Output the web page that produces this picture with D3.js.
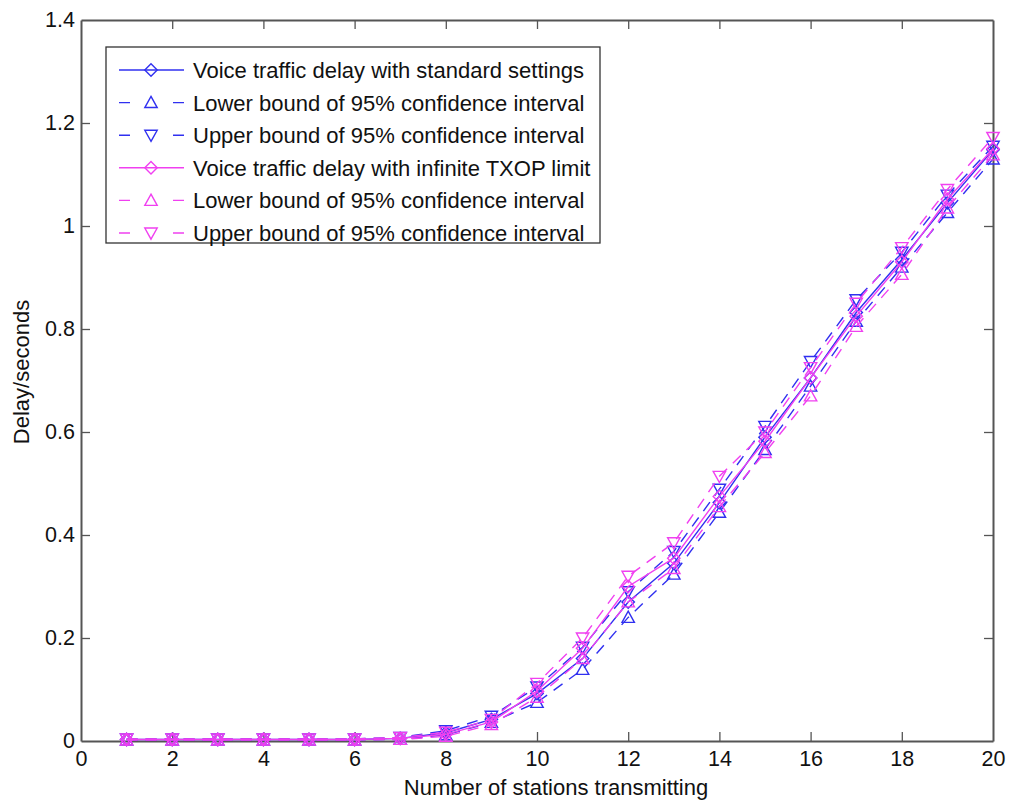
<!DOCTYPE html>
<html>
<head>
<meta charset="utf-8">
<script src="https://cdn.jsdelivr.net/npm/d3@7"></script>
<style>
	body{ margin:0; background:#fff; }
	svg{ display:block; font-family:"Liberation Sans", Arial, sans-serif; }
</style>
</head>
<body>
<svg id="chart" width="1012" height="801"></svg>
<script>
// number of stations
const stations = [1,2,3,4,5,6,7,8,9,10,11,12,13,14,15,16,17,18,19,20];

// delay in seconds, standard settings
const stdMean = [0.003,0.003,0.003,0.003,0.003,0.003,0.005,0.016,0.042,0.092,0.160,0.270,0.345,0.463,0.590,0.705,0.832,0.935,1.045,1.148];
const stdLow  = [0.002,0.002,0.002,0.002,0.002,0.002,0.003,0.012,0.036,0.075,0.139,0.240,0.324,0.444,0.566,0.689,0.815,0.920,1.026,1.130];
const stdUp   = [0.004,0.004,0.004,0.004,0.004,0.004,0.007,0.020,0.048,0.105,0.182,0.290,0.368,0.489,0.611,0.737,0.857,0.949,1.060,1.155];

// delay in seconds, infinite TXOP limit
const txMean = [0.003,0.003,0.003,0.003,0.003,0.003,0.005,0.013,0.037,0.097,0.180,0.300,0.355,0.475,0.582,0.705,0.825,0.930,1.052,1.150];
const txLow  = [0.002,0.002,0.002,0.002,0.002,0.002,0.003,0.009,0.032,0.085,0.160,0.270,0.335,0.455,0.560,0.670,0.805,0.906,1.035,1.138];
const txUp   = [0.004,0.004,0.004,0.004,0.004,0.004,0.007,0.017,0.042,0.112,0.200,0.320,0.385,0.514,0.600,0.725,0.850,0.958,1.071,1.172];

const xTicks = [0,2,4,6,8,10,12,14,16,18,20];
const yTicks = [0,0.2,0.4,0.6,0.8,1,1.2,1.4];

const legendLabels = [
	'Voice traffic delay with standard settings',
	'Lower bound of 95% confidence interval',
	'Upper bound of 95% confidence interval',
	'Voice traffic delay with infinite TXOP limit',
	'Lower bound of 95% confidence interval',
	'Upper bound of 95% confidence interval'
];

const blue = '#3030f0';
const pink = '#f040f0';

const series = [
	{vals: stdMean, color: blue, dash: null, marker: 'diamond'},
	{vals: stdLow, color: blue, dash: '11,8', marker: 'up'},
	{vals: stdUp, color: blue, dash: '11,8', marker: 'down'},
	{vals: txMean, color: pink, dash: null, marker: 'diamond'},
	{vals: txLow, color: pink, dash: '11,8', marker: 'up'},
	{vals: txUp, color: pink, dash: '11,8', marker: 'down'}
];

let margin = {left: 81, right: 19, top: 20, bottom: 60};
let width = 1012, height = 801;
let svg = d3.select('#chart');

let x = d3.scaleLinear().domain([0,20]).range([margin.left, width - margin.right]);
let y = d3.scaleLinear().domain([0,1.4]).range([height - margin.bottom, margin.top]);

let axisColor = '#555';
let fontSize = 22;
let tickFont = 21.5;

function markerPath(type){
	let r = 6.2;
	if(type === 'diamond'){
		return `M0,${-r}L${r},0L0,${r}L${-r},0Z`;
	}
	if(type === 'up'){
		return `M0,${-r}L${r},${r*0.8}L${-r},${r*0.8}Z`;
	}
	return `M0,${r}L${r},${-r*0.8}L${-r},${-r*0.8}Z`;
}

// axes with inward ticks, box style
let tickLen = 9;
let g = svg.append('g');

g.append('g')
	.attr('transform', `translate(0,${y(0)})`)
	.call(d3.axisBottom(x).tickValues(xTicks).tickSizeInner(-tickLen).tickSizeOuter(0).tickPadding(10).tickFormat(d3.format('d')));
g.append('g')
	.attr('transform', `translate(0,${y(1.4)})`)
	.call(d3.axisTop(x).tickValues(xTicks).tickSizeInner(-tickLen).tickSizeOuter(0).tickFormat(''));
g.append('g')
	.attr('transform', `translate(${x(0)},0)`)
	.call(d3.axisLeft(y).tickValues(yTicks).tickSizeInner(-tickLen).tickSizeOuter(0).tickPadding(6).tickFormat(d => d3.format('')(+d.toFixed(1))));
g.append('g')
	.attr('transform', `translate(${x(20)},0)`)
	.call(d3.axisRight(y).tickValues(yTicks).tickSizeInner(-tickLen).tickSizeOuter(0).tickFormat(''));

g.selectAll('.domain').attr('stroke', axisColor).attr('stroke-width', 2);
g.selectAll('.tick line').attr('stroke', axisColor).attr('stroke-width', 1.3);
g.selectAll('.tick text').attr('fill', '#111').attr('font-size', tickFont + 'px').attr('font-family', '"Liberation Sans", Arial, sans-serif');

// suppress ticks at the corners (covered by the box)
g.selectAll('.tick').filter(d => d === 0 || d === 20 || d === 1.4).select('line').remove();

// data lines
let plot = svg.append('g');
series.forEach(s => {
	let pts = stations.map((st, i) => [st, s.vals[i]]);
	let line = d3.line().x(d => x(d[0])).y(d => y(d[1]));
	plot.append('path')
		.datum(pts)
		.attr('fill', 'none')
		.attr('stroke', s.color)
		.attr('stroke-width', 1.4)
		.attr('stroke-dasharray', s.dash)
		.attr('d', line);
	plot.selectAll(null)
		.data(pts)
		.enter()
		.append('path')
		.attr('transform', d => `translate(${x(d[0])},${y(d[1])})`)
		.attr('d', markerPath(s.marker))
		.attr('fill', 'none')
		.attr('stroke', s.color)
		.attr('stroke-width', 1.4);
});

// axis titles
svg.append('text')
	.attr('x', 556)
	.attr('y', 795)
	.attr('text-anchor', 'middle')
	.attr('font-size', fontSize + 'px')
	.attr('fill', '#111')
	.text('Number of stations transmitting');
svg.append('text')
	.attr('transform', `translate(29,372) rotate(-90)`)
	.attr('text-anchor', 'middle')
	.attr('font-size', fontSize + 'px')
	.attr('fill', '#111')
	.text('Delay/seconds');

// legend
let lg = svg.append('g');
let lx = 106, ly = 47, lw = 494, lh = 196;
lg.append('rect')
	.attr('x', lx).attr('y', ly)
	.attr('width', lw).attr('height', lh)
	.attr('fill', '#fff')
	.attr('stroke', '#333')
	.attr('stroke-width', 1.3);
let rowH = 32.6;
series.forEach((s, i) => {
	let ry = ly + 23 + i * rowH;
	lg.append('line')
		.attr('x1', 119).attr('x2', 184)
		.attr('y1', ry).attr('y2', ry)
		.attr('stroke', s.color)
		.attr('stroke-width', 1.4)
		.attr('stroke-dasharray', s.dash ? '11,43,11' : null);
	lg.append('path')
		.attr('transform', `translate(151,${ry})`)
		.attr('d', markerPath(s.marker))
		.attr('fill', 'none')
		.attr('stroke', s.color)
		.attr('stroke-width', 1.4);
	lg.append('text')
		.attr('x', 193).attr('y', ry)
		.attr('dy', '0.36em')
		.attr('font-size', fontSize + 'px')
		.attr('fill', '#111')
		.text(legendLabels[i]);
});
</script>
</body>
</html>
